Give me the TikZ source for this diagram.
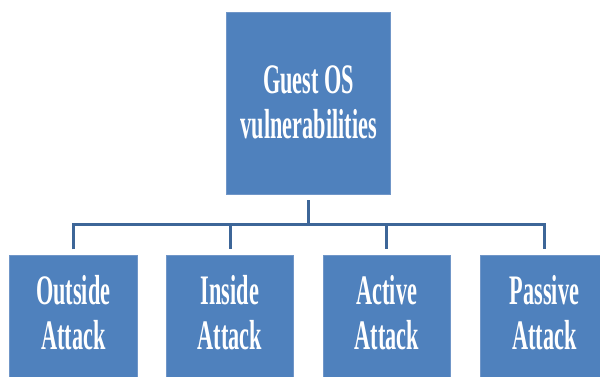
\documentclass[tikz,border=0pt]{standalone}
\usepackage{fontspec}
\newfontfamily\condfont[FakeStretch=0.53]{Liberation Serif}
\definecolor{boxblue}{HTML}{4F81BD}
\definecolor{boxedge}{HTML}{7096C8}
\definecolor{linkblue}{HTML}{3D6698}
\tikzset{
  cbox/.style={rectangle, fill=boxblue, draw=boxedge, line width=0.6pt, inner sep=0pt},
  ctext/.style={text=white, align=center, inner sep=0pt,
    font=\condfont\bfseries\fontsize{42}{45}\selectfont},
  conn/.style={draw=linkblue, line width=3pt, line join=miter},
}
\begin{document}
\begin{tikzpicture}[x=1pt,y=-1pt]
  \useasboundingbox (0,0) rectangle (600,377);
  \clip (0,0) rectangle (600,377);

  % root box
  \node[cbox, minimum width=164pt, minimum height=181.7pt] (top) at (308.7,103.2) {};
  \node[ctext] (toptext) at (308.7,102) {Guest OS\\vulnerabilities};

  % child boxes (run past the lower and right edges)
  \node[cbox, minimum width=127.5pt, minimum height=150pt, anchor=north] (b1) at (73.3,255.3) {};
  \node[cbox, minimum width=127.5pt, minimum height=150pt, anchor=north] (b2) at (230,255.3) {};
  \node[cbox, minimum width=127.5pt, minimum height=150pt, anchor=north] (b3) at (386.9,255.3) {};
  \node[cbox, minimum width=127.5pt, minimum height=150pt, anchor=north] (b4) at (544.4,255.3) {};

  \node[ctext] (t1) at (73.3,313) {Outside\\Attack};
  \node[ctext] (t2) at (230,313) {Inside\\Attack};
  \node[ctext] (t3) at (386.9,313) {Active\\Attack};
  \node[ctext] (t4) at (544.4,313) {Passive\\Attack};

  % connectors
  \coordinate (bar) at (0,224.3);
  \draw[conn] ([yshift=-6pt]top.south) -- (top.south |- bar);
  \draw[conn] ([yshift=6pt]b1.north) -- (b1.north |- bar) -- (b4.north |- bar) -- ([yshift=6pt]b4.north);
  \draw[conn] (b2.north |- bar) -- ([yshift=6pt]b2.north);
  \draw[conn] (b3.north |- bar) -- ([yshift=6pt]b3.north);
\end{tikzpicture}
\end{document}
